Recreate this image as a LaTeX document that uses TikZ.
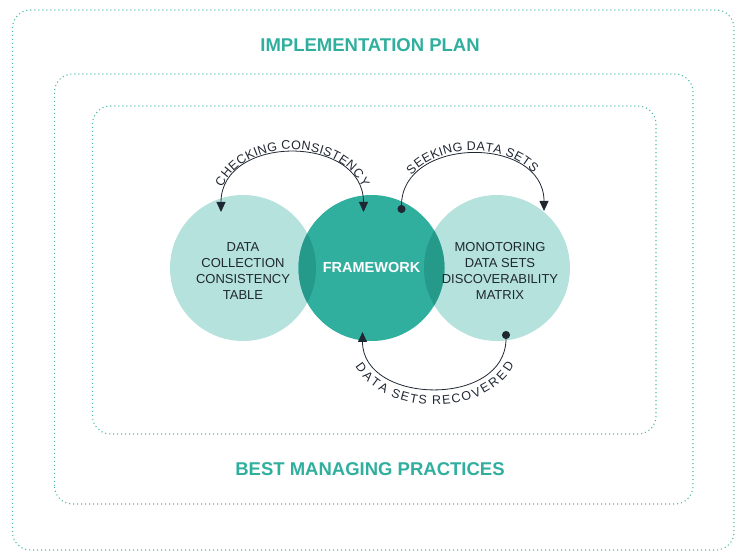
\documentclass[tikz,border=0pt]{standalone}
\usepackage{fontspec}
\setmainfont{Liberation Sans}
\usetikzlibrary{arrows.meta,decorations.text,positioning}
\definecolor{mint}{HTML}{B5E2DC}
\definecolor{jade}{HTML}{30AE9E}
\definecolor{deepjade}{HTML}{25998A}
\definecolor{dotline}{HTML}{4CBAAB}
\definecolor{ink}{HTML}{1F2733}

\tikzset{
  frame/.style={draw=dotline, line width=1.1pt, dash pattern=on 1.1pt off 2.9pt, rounded corners=18pt},
  bubble/.style={circle, minimum size=146pt, inner sep=0pt},
  bubbletext/.style={align=center, text=ink, font=\fontsize{13}{16}\selectfont},
  heading/.style={text=jade, font=\bfseries\fontsize{18.5}{20}\selectfont},
  loop/.style={draw=ink, line width=0.8pt},
  arclabel/.style={postaction={decorate, decoration={text along path, text align=center,
    text color=ink, raise=#1}}},
}

\begin{document}
\begin{tikzpicture}[x=1pt,y=1pt]
\useasboundingbox (0,0) rectangle (741,559);
% dotted frames
\draw[frame] (12.5,9) rectangle (734,549);
\draw[frame] (54.5,55) rectangle (693,485);
\draw[frame] (92.5,125) rectangle (656,453);

\node[heading] (plan) at (370,514) {IMPLEMENTATION PLAN};
\node[heading] (practices) at (370,90) {BEST MANAGING PRACTICES};

% the three circles
\node[bubble, fill=mint] (dc) at (243,291) {};
\node[bubble, fill=mint] (mt) at (497,291) {};
\node[bubble, fill=jade] (fw) at (371.5,291) {};
\begin{scope}
  \clip (fw.center) circle (73);
  \fill[deepjade] (dc.center) circle (73);
  \fill[deepjade] (mt.center) circle (73);
\end{scope}

\node[bubbletext] (dctext) at ([yshift=-3]dc.center) {DATA\\COLLECTION\\CONSISTENCY\\TABLE};
\node[text=white, font=\bfseries\fontsize{14.5}{16}\selectfont] (fwtext) at (fw.center) {FRAMEWORK};
\node[bubbletext] (mttext) at ([xshift=3,yshift=-3]mt.center) {MONOTORING\\DATA SETS\\DISCOVERABILITY\\MATRIX};

% loops between the circles
\draw[loop, {Triangle[length=10pt,width=9pt]}-{Triangle[length=10pt,width=9pt]},
  arclabel=4pt, decoration={text={|\fontsize{12.5}{13}\selectfont|CHECKING CONSISTENCY}}]
  ([shift={(-22,56)}]dc.center) .. controls +(0,78) and +(0,78) .. ([shift={(-8,56)}]fw.center);
\draw[loop, {Circle[length=8pt]}-{Triangle[length=10pt,width=9pt]},
  arclabel=4pt, decoration={text={|\fontsize{12.5}{13}\selectfont|SEEKING DATA SETS}}]
  ([shift={(30,55)}]fw.center) .. controls +(0,77) and +(0,76) .. ([shift={(47,57)}]mt.center);
\draw[loop, {Triangle[length=10pt,width=9pt]}-{Circle[length=8pt]},
  arclabel=-17pt, decoration={text={|\fontsize{12.5}{13}\selectfont|DATA SETS RECOVERED}}]
  ([shift={(-9,-64)}]fw.center) .. controls +(0,-73) and +(0,-77) .. ([shift={(9,-63)}]mt.center);
\end{tikzpicture}
\end{document}
